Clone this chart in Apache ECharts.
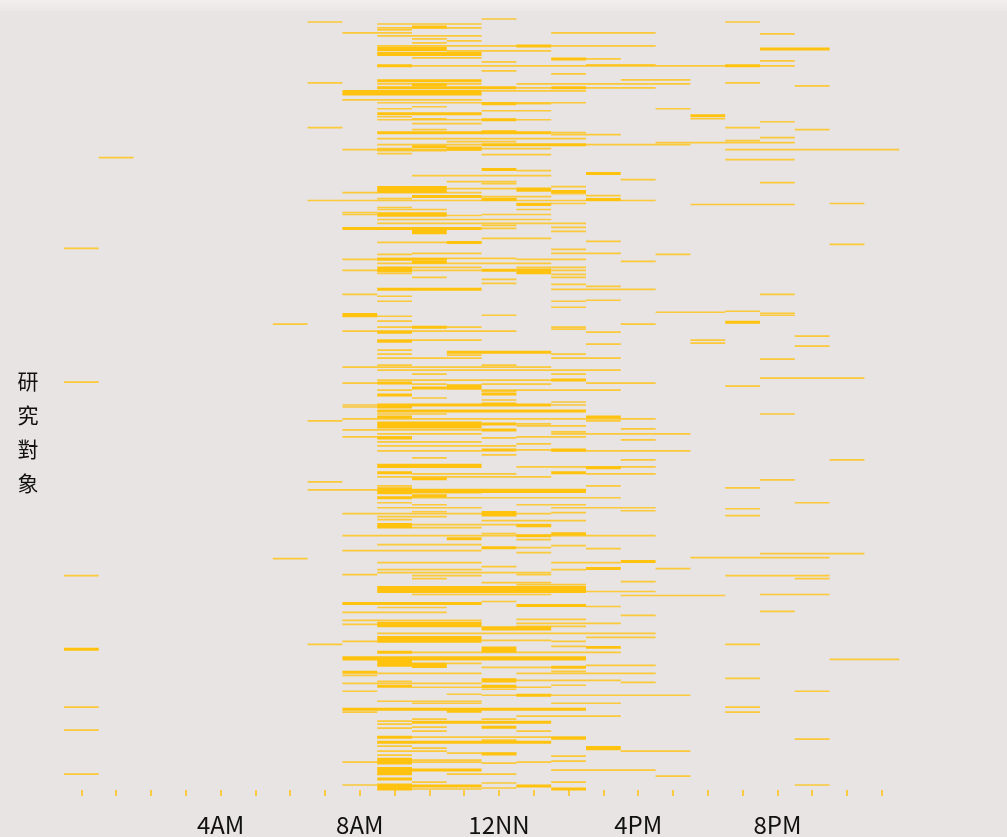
<!DOCTYPE html>
<html><head><meta charset="utf-8">
<script src="https://cdn.jsdelivr.net/npm/echarts@6/dist/echarts.min.js"></script>
<style>html,body{margin:0;padding:0;background:#E8E4E3;}#c{width:1007px;height:837px;}</style>
</head><body><div id="c"></div>
<script>
// hour categories (0 = midnight ... 23 = 11PM)
const hours = [0,1,2,3,4,5,6,7,8,9,10,11,12,13,14,15,16,17,18,19,20,21,22,23];
const labelHours = [4, 8, 12, 16, 20];
const labelTexts = ['4AM', '8AM', '12NN', '4PM', '8PM'];
const yTitle = '研究對象';

// activity records: [subject position, first hour, end hour (exclusive), overlapping count]
const rowsA = [
[19,12,13,1],[22,7,8,1],[22,19,20,1],[24,9,12,1],[27,10,11,2],[28,9,12,1],[30,9,10,1],
[33,8,10,1],[33,14,17,1],[34,20,21,1],[36,9,12,1],[39,10,11,1],[41,11,12,1],[43,10,11,1],
[46,9,17,1],[46,13,14,2],[49,20,22,2],[49,9,11,3],[51,11,14,1],[54,9,12,3],[58,10,12,1],
[59,14,15,2],[59,15,16,1],[61,20,21,1],[62,12,13,1],[65,15,17,1],[66,9,21,1],[66,9,10,2],
[66,19,20,2],[71,12,13,1],[74,14,15,1],[80,16,18,1],[81,9,12,2],[83,7,8,1],[83,19,20,1],
[84,9,12,1],[84,13,18,1],[85,10,11,2],[86,21,22,1],[88,9,13,2],[88,13,14,1],[88,14,15,2],
[88,15,17,1],[91,12,15,1],[93,8,12,4],[100,8,12,1],[103,9,15,1],[104,12,13,2],[104,13,14,1],
[107,10,11,1],[109,9,10,1],[109,17,18,1],[111,12,14,1],[114,9,12,2],[116,18,19,2],[117,9,10,1],
[119,10,11,1],[119,18,19,1],[120,9,12,1],[120,12,13,2],[120,13,14,1],[122,20,21,1],[124,10,12,1]
];
const rowsB = [
[128,7,8,1],[128,19,20,1],[130,10,11,1],[130,21,22,1],[132,12,13,2],[133,9,14,2],[133,14,15,1],
[135,14,16,1],[138,20,21,1],[139,9,15,1],[141,19,20,1],[142,11,13,1],[143,17,21,1],[145,9,12,1],
[145,12,15,2],[145,15,18,1],[147,10,11,2],[149,9,10,1],[149,11,14,1],[150,8,12,1],[150,19,24,1],
[149,11,12,3],[151,9,11,1],[154,9,10,1],[155,12,14,1],[158,1,2,1],[160,19,21,1],[170,12,13,2],
[171,13,14,1],[174,15,16,2],[176,10,14,1],[180,16,17,1],[182,11,13,1],[183,20,21,1],[184,12,13,1],
[187,14,15,1],[190,9,11,5],[189,11,13,1],[190,13,14,3],[192,14,15,2],[193,8,10,1],[193,10,12,1],
[194,14,15,1],[196,15,16,1],[197,10,12,2],[197,12,14,1],[199,9,10,1],[199,12,13,1],[200,12,13,2],
[200,15,16,2],[201,7,8,1],[201,8,17,1],[204,13,15,1],[205,13,14,2],[205,18,21,1],[204,22,23,1],
[208,9,10,1],[210,9,11,1],[210,13,14,1],[213,8,9,1],[215,9,11,3],[216,11,12,1],[215,12,14,1],
[215,8,9,1],[220,9,14,1],[224,9,15,1],[226,12,13,1],[228,14,15,1],[229,8,12,2],[229,12,13,1],
[232,14,15,1],[232,10,11,4],[239,12,14,1]
];
const rowsC = [
[242,15,16,1],[243,9,12,1],[243,11,12,2],[245,22,23,1],[249,0,1,1],[250,14,15,1],[254,10,12,1],
[254,14,16,1],[255,9,10,1],[255,17,18,1],[259,9,13,1],[260,9,11,2],[260,8,9,1],[260,13,15,1],
[262,16,17,1],[263,10,11,2],[264,9,14,1],[268,10,12,1],[268,13,15,1],[270,9,10,4],[271,8,9,1],
[271,10,12,1],[271,14,15,1],[271,12,13,2],[272,13,14,4],[274,9,10,1],[275,14,15,1],[278,10,11,1],
[278,14,15,1],[280,12,13,1],[284,12,13,1],[285,14,15,1],[287,15,16,1],[290,9,12,2],[290,14,17,1],
[295,8,9,1],[295,20,21,1],[297,9,10,1],[301,15,16,1],[302,9,10,1],[302,14,15,1],[308,14,15,1],
[313,17,19,1],[312,19,20,1],[314,20,21,1],[316,8,9,3],[317,9,10,1],[316,12,13,1],[316,20,21,1],
[322,9,10,1],[323,19,20,2],[325,6,7,1],[325,16,17,1],[328,9,12,1],[328,10,11,2],[328,14,15,1],
[330,14,15,1],[332,8,13,1],[333,9,10,2],[333,15,16,1],[337,21,22,1],[341,9,12,1],[341,18,19,1],
[342,9,10,2],[344,18,19,1],[345,15,16,1],[347,21,22,1],[351,9,10,1],[353,11,14,2]
];
const rowsD = [
[355,9,10,1],[355,14,15,1],[356,11,12,1],[359,9,12,1],[359,14,16,1],[360,20,21,1],[366,9,10,1],
[366,12,13,1],[368,8,14,1],[371,9,16,1],[375,10,11,1],[375,14,15,1],[379,20,23,1],[381,9,15,1],
[381,14,15,2],[383,0,1,1],[384,8,10,1],[384,9,10,2],[384,15,17,1],[385,10,11,1],[385,12,14,1],
[387,19,20,1],[388,11,12,4],[389,10,11,2],[391,9,10,1],[391,12,16,1],[392,12,13,1],[395,12,13,2],
[396,9,10,2],[399,10,11,1],[401,12,13,1],[403,14,15,1],[405,12,13,2],[406,8,9,1],[406,9,14,2],
[406,14,15,1],[408,8,10,1],[408,9,10,2],[412,9,15,2],[415,9,11,1],[415,20,21,1],[418,9,10,2],
[418,15,16,2],[420,8,17,1],[422,7,8,1],[422,15,16,1],[426,9,12,5],[425,12,13,2],[425,13,14,1],
[427,13,15,1],[430,16,17,1],[431,8,12,1],[431,12,13,2],[433,14,15,1],[435,9,12,1],[435,14,18,1],
[438,8,10,1],[439,9,10,2],[438,13,15,1],[439,12,13,1],[441,16,17,1],[443,9,12,1],[445,13,14,1],
[447,9,13,1],[451,12,13,2],[451,13,14,1],[451,14,15,2],[452,9,12,1],[452,14,18,1],[456,12,13,1],
[459,10,11,1],[461,16,17,1],[461,22,23,1]
];
const rowsE = [
[467,9,12,3],[468,13,17,1],[469,15,16,2],[474,9,10,2],[475,10,13,1],[474,14,15,2],[475,15,17,1],
[478,9,14,1],[480,10,11,2],[481,20,21,1],[483,7,8,1],[487,9,10,1],[487,15,16,1],[489,19,20,1],
[491,7,9,1],[492,9,10,5],[492,10,15,3],[494,10,12,1],[497,10,11,2],[499,9,16,1],[499,9,10,2],
[504,9,10,1],[504,21,22,1],[506,10,11,1],[506,13,15,1],[509,9,12,1],[509,14,17,1],[510,19,20,1],
[512,16,17,1],[513,10,11,1],[515,12,13,4],[515,8,14,1],[514,14,15,1],[517,19,20,1],[518,9,11,1],
[521,9,10,1],[522,12,15,1],[526,10,14,1],[527,9,10,4],[527,13,14,2],[529,10,12,1],[535,12,13,1],
[535,14,15,2],[537,8,17,1],[537,13,14,2],[540,11,12,2],[541,13,14,1],[546,9,12,1],[547,14,15,1],
[549,13,14,1],[549,12,13,2],[550,15,16,1],[552,8,12,1],[554,13,14,1],[555,20,23,1],[559,18,22,1],
[560,6,7,1],[563,16,17,2],[564,9,12,1],[564,14,16,1],[568,12,13,1],[570,17,18,1],[570,15,16,2],
[571,9,12,1],[571,14,15,1]
];
const rowsF = [
[574,9,14,1],[576,8,9,1],[576,13,14,1],[577,10,12,1],[577,19,22,1],[577,0,1,1],[580,10,11,1],
[580,21,22,1],[583,16,17,1],[584,12,14,1],[586,13,15,1],[591,9,15,5],[593,15,17,1],[596,10,14,1],
[596,20,22,1],[597,16,19,1],[603,12,13,1],[605,8,12,2],[607,13,15,2],[608,15,16,1],[609,9,11,1],
[613,20,21,1],[614,8,11,1],[617,16,17,1],[621,13,15,1],[622,8,12,1],[625,13,16,1],[626,9,12,4],
[626,8,9,1],[628,13,15,1],[630,12,14,3],[635,9,17,1],[639,15,17,1],[641,9,12,5],[642,12,14,1],
[643,8,9,1],[643,14,15,1],[646,7,8,1],[646,19,20,1],[648,14,15,1],[649,15,16,2],[651,12,13,4],
[651,0,1,2],[654,9,10,2],[654,10,16,1],[660,8,15,3],[661,22,24,1],[665,9,10,5],[667,10,11,4],
[665,11,12,1],[667,15,17,1],[669,12,14,1],[669,14,15,2],[673,14,15,1],[674,8,9,2],[675,9,12,1],
[675,13,17,1],[677,8,9,1],[680,19,20,1],[682,12,13,3],[682,13,16,1],[683,9,10,1]
];
const rowsG = [
[684,16,17,1],[685,8,12,1],[687,14,15,1],[688,9,10,2],[689,10,14,1],[688,12,13,2],[691,12,13,1],
[693,8,9,1],[693,21,22,1],[696,11,12,1],[697,12,18,1],[697,13,14,2],[703,9,12,1],[705,10,12,1],
[705,14,16,1],[709,19,20,1],[709,0,1,1],[711,8,15,2],[713,11,12,2],[714,8,9,1],[714,19,20,1],
[718,13,16,1],[721,10,11,1],[721,12,13,1],[723,9,10,1],[724,10,14,2],[726,9,10,1],[729,10,11,1],
[729,12,13,2],[730,9,10,1],[732,0,1,1],[733,10,11,1],[733,13,14,1],[739,9,15,1],[739,9,10,2],
[740,14,15,2],[741,21,22,1],[742,12,13,1],[744,9,14,2],[748,9,10,1],[750,10,11,1],[750,15,16,3],
[753,9,11,1],[753,16,18,1],[755,11,13,1],[756,12,13,2],[757,9,10,1],[758,14,15,1],[762,10,12,1],
[763,14,15,1],[763,9,10,5],[764,8,9,1],[764,10,12,1],[765,12,13,1],[764,13,14,1],[772,14,17,1],
[773,9,10,6],[772,10,12,2],[776,11,13,1],[776,0,1,1],[778,17,18,1],[781,9,10,2],[784,10,11,1],
[784,14,15,1],[785,12,13,1],[787,8,9,1],[787,21,22,1],[789,9,10,5],[788,10,12,2],[788,13,14,2],
[790,12,13,1],[791,14,15,2],[791,10,12,1]
];

const allRows = [].concat(rowsA, rowsB, rowsC, rowsD, rowsE, rowsF, rowsG);
const seriesData = allRows.map(r => [r[1], r[2], r[0], r[3]]);

const chart = echarts.init(document.getElementById('c'), null, {renderer: 'canvas'});
chart.setOption({
  backgroundColor: '#E8E4E3',
  animation: false,
  grid: {left: 64, right: 107.8, top: 15, bottom: 42},
  xAxis: {
    type: 'category',
    data: hours,
    boundaryGap: true,
    offset: -3,
    axisLine: {show: false},
    axisTick: {show: true, alignWithLabel: true, interval: 0, length: 6, lineStyle: {color: '#FFC20E', width: 1.5}},
    axisLabel: {
      interval: 0, margin: 23,
      fontFamily: 'Noto Sans CJK TC', fontSize: 24, color: '#111111',
      formatter: function (v) {
        const i = labelHours.indexOf(Number(v));
        return i >= 0 ? labelTexts[i] : '';
      }
    },
    splitLine: {show: false}
  },
  yAxis: {type: 'value', min: 15, max: 795, inverse: true, show: false},
  graphic: [
    {type: 'rect', left: 0, top: 0, z: 10, shape: {width: 1007, height: 11},
     style: {fill: new echarts.graphic.LinearGradient(0, 0, 0, 1, [{offset: 0, color: '#F1EFEE'}, {offset: 1, color: '#EAE7E6'}])}},
    {type: 'text', x: 28, y: 432, z: 10,
     style: {text: yTitle.split('').join('\n'), font: '21px "Noto Sans CJK TC"', lineHeight: 34,
             fill: '#111111', align: 'center', verticalAlign: 'middle'}}
  ],
  series: [{
    type: 'custom',
    data: seriesData,
    encode: {x: [0, 1], y: 2},
    renderItem: function (params, api) {
      const a = api.value(0), b = api.value(1), y = api.value(2), n = api.value(3);
      const bw = api.size([1, 0])[0];
      const p0 = api.coord([a, y]);
      const p1 = api.coord([b - 1, y]);
      const h = api.size([0, 1.3 * n + 0.4])[1];
      return {
        type: 'rect',
        shape: {x: p0[0] - bw / 2, y: p0[1] - h / 2, width: p1[0] - p0[0] + bw, height: h},
        style: {fill: '#FFC20E', opacity: n > 1 ? 1 : 0.8}
      };
    }
  }]
});
</script></body></html>
